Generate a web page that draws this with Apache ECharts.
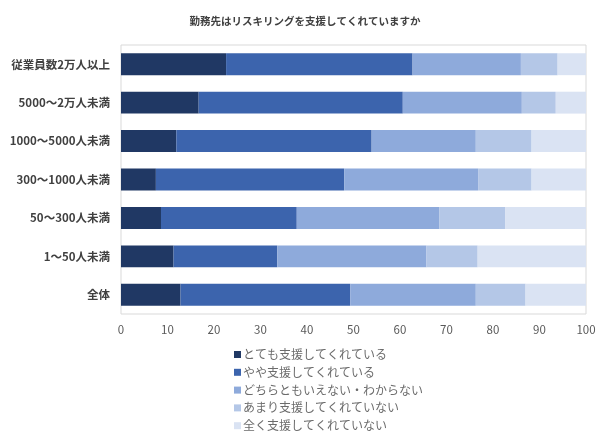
<!DOCTYPE html>
<html>
<head>
<meta charset="utf-8">
<script src="https://cdn.jsdelivr.net/npm/echarts@6/dist/echarts.min.js"></script>
<style>
    html, body { margin: 0; padding: 0; background: #fff; }
    #chart { width: 610px; height: 438px; }
</style>
</head>
<body>
<div id="chart"></div>
<script>
var categories = ['従業員数2万人以上', '5000～2万人未満', '1000～5000人未満', '300～1000人未満', '50～300人未満', '1～50人未満', '全体'];
var seriesNames = ['とても支援してくれている', 'やや支援してくれている', 'どちらともいえない・わからない', 'あまり支援してくれていない', '全く支援してくれていない'];
var veryMuch = [22.6, 16.7, 11.9, 7.5, 8.6, 11.3, 12.8];
var somewhat = [40.1, 43.9, 42.0, 40.5, 29.2, 22.3, 36.5];
var neither = [23.3, 25.6, 22.4, 28.8, 30.7, 32.1, 27.0];
var notMuch = [7.9, 7.3, 12.0, 11.5, 14.1, 11.0, 10.7];
var notAtAll = [6.1, 6.5, 11.7, 11.7, 17.4, 23.3, 13.0];
var colors = ['#203864', '#3c64ad', '#8eaadb', '#b4c7e7', '#dae3f3'];

var init_barChart = function () {
    var myChart = echarts.init(document.getElementById('chart'));
    var font = '"Noto Sans CJK JP", "Noto Sans", sans-serif';
    var values = [veryMuch, somewhat, neither, notMuch, notAtAll];
    var series = [];
    for (var i = 0; i < seriesNames.length; i++) {
        series.push({
            name: seriesNames[i],
            type: 'bar',
            stack: 'total',
            barCategoryGap: '43%',
            itemStyle: { color: colors[i] },
            data: values[i]
        });
    }
    var option = {
        animation: false,
        textStyle: { fontFamily: font },
        title: {
            text: '勤務先はリスキリングを支援してくれていますか',
            left: 'center',
            top: 11,
            textStyle: { fontSize: 10.5, fontWeight: 'bold', color: '#404040', fontFamily: font }
        },
        legend: {
            data: seriesNames,
            orient: 'vertical',
            left: 234,
            top: 348,
            padding: 0,
            itemWidth: 7,
            itemHeight: 7,
            itemGap: 4.8,
            icon: 'rect',
            textStyle: { fontSize: 12, lineHeight: 13, color: '#6b6b6b', fontFamily: font, padding: [0, 0, 0, -3] }
        },
        grid: {
            left: 121,
            right: 24,
            top: 45,
            bottom: 124,
            show: true,
            borderColor: '#d9d9d9',
            borderWidth: 1
        },
        xAxis: {
            type: 'value',
            min: 0,
            max: 100,
            interval: 10,
            axisLine: { show: false },
            axisTick: { show: false },
            splitLine: { show: false },
            axisLabel: { color: '#595959', fontSize: 11.5, margin: 10 }
        },
        yAxis: {
            type: 'category',
            inverse: true,
            data: categories,
            axisLine: { show: false },
            axisTick: { show: false },
            axisLabel: { color: '#404040', fontSize: 11.5, fontWeight: 'bold', margin: 11 }
        },
        series: series
    };
    myChart.setOption(option);
};

init_barChart();
</script>
</body>
</html>
